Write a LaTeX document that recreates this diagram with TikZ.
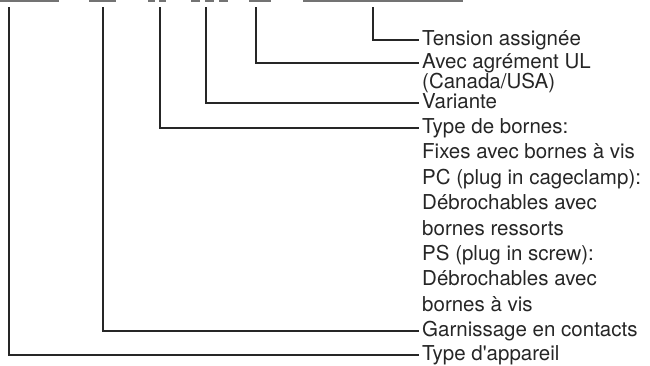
\documentclass[tikz,border=0pt]{standalone}
\usepackage{fontspec}
\setmainfont{TeX Gyre Heros}
\begin{document}
\begin{tikzpicture}[x=1pt,y=-1pt,font=\fontsize{20.5}{25}\selectfont,
  lbl/.style={right,inner xsep=3pt,inner ysep=0pt,text height=15pt,text depth=4pt,text=black!85},
  bar/.style={black!55,line width=2pt},
  lead/.style={black!85,line width=1.3pt}]
\useasboundingbox (0,0) rectangle (650,365);
% code fields
\foreach \a/\b in {0/59,89/116,148/155,159/166,191/200,205/214,219/228,249/271,303/463}
  \draw[bar] (\a,1) -- (\b,1);
\coordinate (s1) at (9,7);
\coordinate (s2) at (103,7);
\coordinate (s3) at (160,7);
\coordinate (s4) at (206,7);
\coordinate (s5) at (256,7);
\coordinate (s6) at (373,7);
% labels
\node[lbl] (tension) at (419,40) {Tension assignée};
\node[lbl] (ul) at (419,63) {Avec agrément UL};
\node[lbl] (ul2) at (419,83) {(Canada/USA)};
\node[lbl] (variante) at (419,103) {Variante};
\node[lbl] (bornes) at (419,128) {Type de bornes:};
\node[lbl] (bornes2) at (419,153.4) {Fixes avec bornes à vis};
\node[lbl] (bornes3) at (419,178.8) {PC (plug in cageclamp):};
\node[lbl] (bornes4) at (419,204.2) {Débrochables avec};
\node[lbl] (bornes5) at (419,229.6) {bornes ressorts};
\node[lbl] (bornes6) at (419,255) {PS (plug in screw):};
\node[lbl] (bornes7) at (419,280.4) {Débrochables avec};
\node[lbl] (bornes8) at (419,305.8) {bornes à vis};
\node[lbl] (contacts) at (419,331) {Garnissage en contacts};
\node[lbl] (appareil) at (419,355) {Type d\textquotesingle appareil};
% leaders
\draw[lead] (s6) |- (tension.west);
\draw[lead] (s5) |- (ul.west);
\draw[lead] (s4) |- (variante.west);
\draw[lead] (s3) |- (bornes.west);
\draw[lead] (s2) |- (contacts.west);
\draw[lead] (s1) |- (appareil.west);
\end{tikzpicture}
\end{document}
